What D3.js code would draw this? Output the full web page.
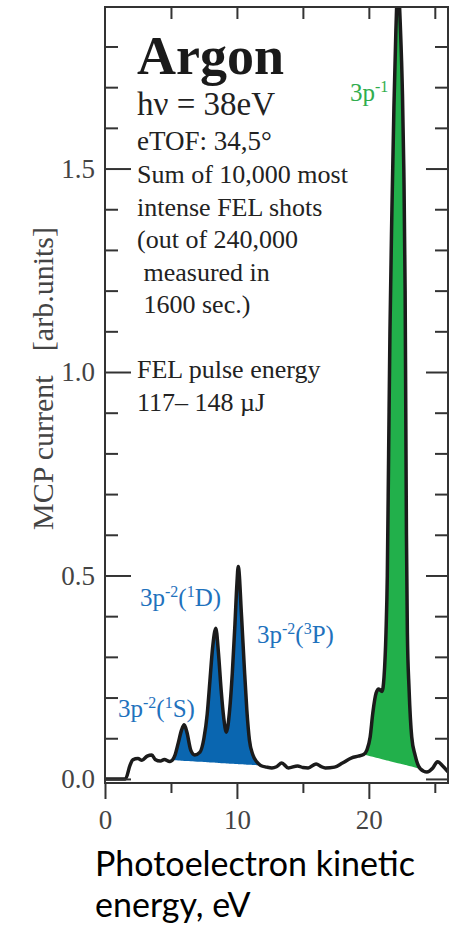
<!DOCTYPE html>
<html>
<head>
<meta charset="utf-8">
<script src="https://cdn.jsdelivr.net/npm/d3@7/dist/d3.min.js"></script>
<style>
  body { margin: 0; background: #fff; }
  svg text { font-family: "Liberation Serif", "Times New Roman", serif; white-space: pre; }
</style>
</head>
<body>
<div id="chart"></div>
<script>
// photoelectron spectrum: kinetic energy (eV) / MCP current (arb. units)
let energy = [0, 1.0, 1.55, 1.9, 2.1, 2.5, 2.8, 3.2, 3.55, 3.8, 4.2, 4.5, 4.9, 5.1, 5.3, 5.55, 5.8, 6.0, 6.2, 6.5, 6.8,
  7.2, 7.5, 7.75, 7.95, 8.15, 8.4, 8.6, 8.8, 9.0, 9.2, 9.45, 9.65, 9.85, 10.0, 10.1, 10.35, 10.55, 10.75, 10.95, 11.2,
  11.5, 11.8, 12.25, 12.65, 13.0, 13.4, 13.9, 14.6, 15.0, 15.4, 16.0, 16.4, 16.7, 17.4, 18.0, 18.7, 19.2, 19.6, 19.85,
  20.1, 20.3, 20.55, 20.75, 21.0, 21.15, 21.3, 21.4, 21.5, 21.6, 21.75, 21.9, 22.05, 22.2, 22.4, 22.55, 22.65, 22.75,
  22.8, 22.85, 22.92, 23.05, 23.25, 23.5, 23.9, 24.4, 24.85, 25.2, 25.6, 26.0];
let current = [0, 0, 0, 0.034, 0.047, 0.05, 0.046, 0.056, 0.059, 0.048, 0.044, 0.048, 0.043, 0.046, 0.058, 0.088, 0.12, 0.133, 0.116, 0.071, 0.059,
  0.066, 0.1, 0.16, 0.24, 0.32, 0.37, 0.31, 0.22, 0.15, 0.115, 0.17, 0.26, 0.38, 0.48, 0.522, 0.40, 0.28, 0.17, 0.095, 0.06,
  0.042, 0.033, 0.029, 0.027, 0.03, 0.039, 0.027, 0.032, 0.028, 0.027, 0.037, 0.03, 0.027, 0.029, 0.039, 0.052, 0.056, 0.06, 0.071,
  0.103, 0.162, 0.211, 0.221, 0.215, 0.25, 0.36, 0.5, 0.8, 1.1, 1.4, 1.65, 1.84, 1.95, 1.84, 1.68, 1.5, 1.2,
  0.9, 0.6, 0.36, 0.22, 0.103, 0.059, 0.025, 0.017, 0.027, 0.042, 0.032, 0.017];

// shaded peak groups (start / end energy of the straight base line)
let blueRange = [5.1, 11.8];
let greenRange = [19.6, 23.9];

let xMajor = [0, 10, 20];
let xMinor = [5, 15, 25];
let yMajor = [0, 0.5, 1.0, 1.5];
let yMinor = [0.1, 0.2, 0.3, 0.4, 0.6, 0.7, 0.8, 0.9, 1.1, 1.2, 1.3, 1.4, 1.6, 1.7, 1.8];

let infoLines = ["Sum of 10,000 most", "intense FEL shots", "(out of 240,000", " measured in", " 1600 sec.)", "", "FEL pulse energy", "117\u2013 148 \u00b5J"];

// peak labels: [text, superscript?]
let label3p1 = [["3p", 0], ["-1", 1]];
let label1D = [["3p", 0], ["-2", 1], ["(", 0], ["1", 1], ["D)", 0]];
let label3P = [["3p", 0], ["-2", 1], ["(", 0], ["3", 1], ["P)", 0]];
let label1S = [["3p", 0], ["-2", 1], ["(", 0], ["1", 1], ["S)", 0]];

var colors = { blue: '#0a66b0', blueText: '#1f72bd', green: '#22b04b', greenText: '#31ad4d', line: '#1b1b1b', axis: '#333', tick: '#444' };

var margin = { left: 105, top: 7 };
var W = 343, H = 776;

var svg = d3.select('#chart').append('svg')
  .attr('width', 452)
  .attr('height', 929);

var x = d3.scaleLinear().domain([0, 26]).range([0, W]);
var y = d3.scaleLinear().domain([-0.01, 1.897]).range([H, 0]);

var data = energy.map(function(e, i){ return [e, current[i]]; });

var g = svg.append('g').attr('transform', 'translate(' + margin.left + ',' + margin.top + ')');

g.append('clipPath').attr('id', 'clip')
  .append('rect').attr('width', W).attr('height', H);

var plot = g.append('g').attr('clip-path', 'url(#clip)');

function fillBand(range, color){
  let pts = data.filter(function(d){ return d[0] >= range[0] && d[0] <= range[1]; });
  let first = pts[0], last = pts[pts.length - 1];
  let base = d3.scaleLinear().domain([first[0], last[0]]).range([first[1], last[1]]);
  let area = d3.area()
    .x(function(d){ return x(d[0]); })
    .y0(function(d){ return y(base(d[0])); })
    .y1(function(d){ return y(d[1]); })
    .curve(d3.curveMonotoneX);
  plot.append('path').datum(pts).attr('d', area).attr('fill', color);
}
fillBand(blueRange, colors.blue);
fillBand(greenRange, colors.green);

var line = d3.line()
  .x(function(d){ return x(d[0]); })
  .y(function(d){ return y(d[1]); })
  .curve(d3.curveMonotoneX);

plot.append('path').datum(data)
  .attr('d', line)
  .attr('fill', 'none')
  .attr('stroke', colors.line)
  .attr('stroke-width', 3.5)
  .attr('stroke-linejoin', 'round');

// axes: ticks only, the frame is drawn as one rect
function styleAxis(sel){
  sel.select('.domain').remove();
  sel.attr('color', colors.axis);
  sel.selectAll('line').attr('stroke-width', 2);
  sel.selectAll('text')
    .attr('fill', colors.tick)
    .attr('font-size', 27);
}

g.append('g').call(d3.axisLeft(y).tickValues(yMajor).tickSize(-26).tickPadding(10).tickFormat(d3.format('.1f'))).call(styleAxis);
g.append('g').call(d3.axisLeft(y).tickValues(yMinor).tickSize(-13).tickFormat('')).call(styleAxis);
g.append('g').attr('transform', 'translate(' + W + ',0)')
  .call(d3.axisRight(y).tickValues(yMajor).tickSize(-22).tickFormat('')).call(styleAxis);
g.append('g').attr('transform', 'translate(' + W + ',0)')
  .call(d3.axisRight(y).tickValues(yMinor).tickSize(-13).tickFormat('')).call(styleAxis);
g.append('g').attr('transform', 'translate(0,' + H + ')')
  .call(d3.axisBottom(x).tickValues(xMajor).tickSize(16).tickPadding(11)).call(styleAxis);
g.append('g').attr('transform', 'translate(0,' + H + ')')
  .call(d3.axisBottom(x).tickValues(xMinor).tickSize(10).tickFormat('')).call(styleAxis);
g.append('g')
  .call(d3.axisTop(x).tickValues(xMinor.concat(xMajor.slice(1))).tickSize(-12).tickFormat('')).call(styleAxis);

g.append('rect')
  .attr('width', W).attr('height', H)
  .attr('fill', 'none')
  .attr('stroke', colors.axis)
  .attr('stroke-width', 2);

// y axis title
svg.append('text')
  .attr('transform', 'translate(53,530) rotate(-90)')
  .attr('font-size', 30)
  .attr('fill', colors.tick)
  .text('MCP current');
svg.append('text')
  .attr('transform', 'translate(53,227) rotate(-90)')
  .attr('text-anchor', 'end')
  .attr('font-size', 30)
  .attr('fill', colors.tick)
  .text('[arb.units]');

// info block
svg.append('text').attr('x', 137).attr('y', 74)
  .attr('font-size', 54).attr('font-weight', 'bold').attr('fill', '#1a1a1a')
  .text('Argon');
svg.append('text').attr('x', 137).attr('y', 115)
  .attr('font-size', 33).attr('fill', '#222')
  .text('h\u03bd = 38eV');
svg.append('text').attr('x', 137).attr('y', 150)
  .attr('font-size', 27).attr('fill', '#222')
  .text('eTOF: 34,5\u00b0');
svg.append('g').selectAll('text')
  .data(infoLines)
  .enter().append('text')
  .attr('x', 137)
  .attr('y', function(d, i){ return 183 + i * 32.5; })
  .attr('font-size', 26)
  .attr('fill', '#222')
  .text(function(d){ return d; });

function peakLabel(parts, px, py, color){
  let t = svg.append('text').attr('x', px).attr('y', py).attr('font-size', 25).attr('fill', color);
  let up = false;
  parts.forEach(function(p){
    let span = t.append('tspan').text(p[0]);
    if(p[1] && !up){ span.attr('dy', -9).attr('font-size', 16); up = true; }
    else if(p[1]){ span.attr('font-size', 16); }
    else if(up){ span.attr('dy', 9); up = false; }
  });
}
peakLabel(label3p1, 350, 101, colors.greenText);
peakLabel(label1D, 140, 606, colors.blueText);
peakLabel(label3P, 257, 643, colors.blueText);
peakLabel(label1S, 118, 717, colors.blueText);

// x axis title
svg.append('text').attr('x', 95).attr('y', 876)
  .style('font-family', 'Lato, "Open Sans", sans-serif')
  .attr('font-size', 34).attr('fill', '#000')
  .text('Photoelectron kinetic');
svg.append('text').attr('x', 95).attr('y', 917)
  .style('font-family', 'Lato, "Open Sans", sans-serif')
  .attr('font-size', 34).attr('fill', '#000')
  .text('energy, eV');
</script>
</body>
</html>
